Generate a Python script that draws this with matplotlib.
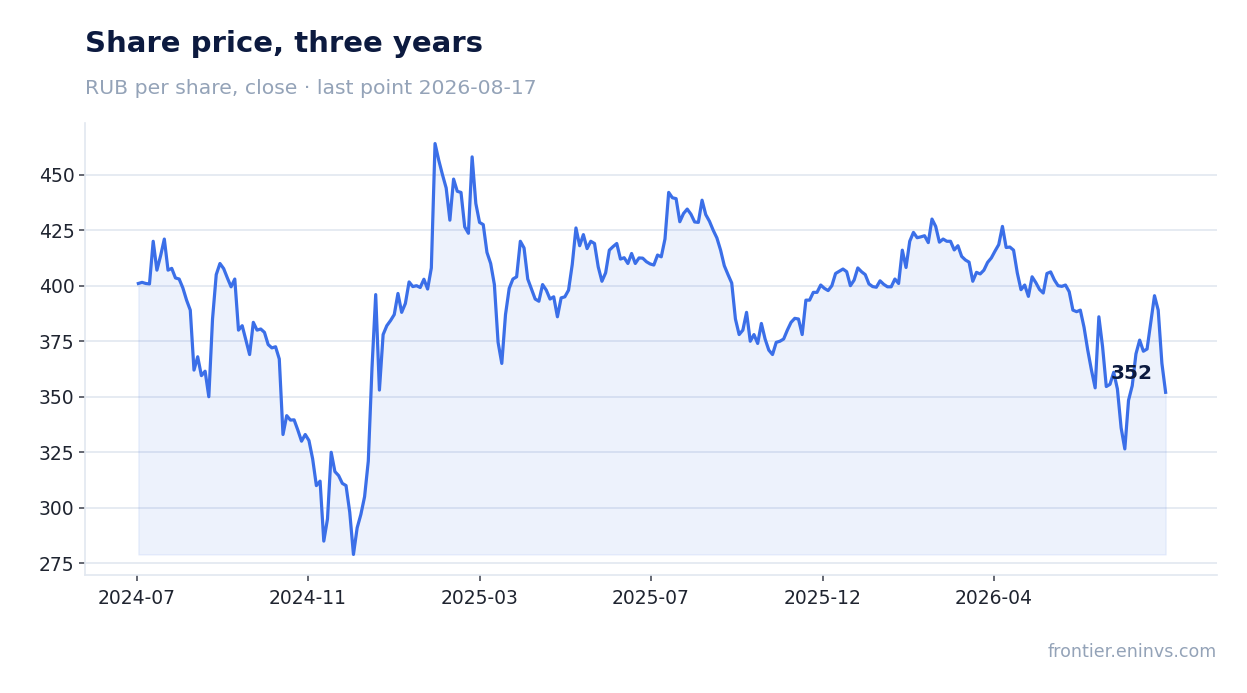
import numpy as np
import pandas as pd
from matplotlib import pyplot as plt

LINE = '#3b6fe8'
NAVY = '#0c1a3f'
GREY = '#94a3b8'
INK = '#1f2430'
RULE = '#e2e8f0'

START = '2024-07-01'
END = '2026-08-17'
TITLE = 'Share price, three years'
SUBTITLE = 'RUB per share, close \u00b7 last point 2026-08-17'
SOURCE = 'frontier.eninvs.com'

# closes, every second trading session ending on END
close = [
    401.0, 401.5, 401.0, 400.8, 420.0, 407.0, 413.5, 421.0, 407.0, 407.8,
    403.5, 403.0, 399.0, 393.5, 389.0, 362.0, 368.0, 359.5, 361.5, 350.0,
    385.0, 405.0, 410.0, 407.7, 403.5, 399.5, 403.0, 380.0, 382.0, 375.5,
    369.0, 383.5, 380.0, 380.5, 379.0, 373.5, 372.0, 372.5, 367.0, 333.0,
    341.5, 339.5, 339.6, 335.0, 330.0, 333.0, 330.3, 322.0, 310.0, 312.0,
    285.0, 295.0, 325.0, 316.3, 314.5, 311.0, 310.0, 298.0, 279.0, 291.0,
    297.0, 305.0, 321.0, 363.0, 396.0, 353.0, 378.0, 382.0, 384.3, 387.0,
    396.5, 388.0, 392.0, 401.7, 399.6, 400.0, 399.2, 402.9, 398.5, 408.0,
    464.0, 456.5, 450.0, 444.0, 429.5, 448.0, 442.5, 442.0, 426.5, 423.6,
    458.0, 437.0, 428.5, 427.5, 415.0, 410.0, 400.5, 374.5, 365.0, 387.0,
    398.8, 403.0, 404.0, 420.0, 417.0, 403.0, 398.5, 394.0, 393.0, 400.5,
    398.0, 394.0, 395.0, 386.0, 394.5, 395.0, 398.0, 409.6, 426.0, 418.0,
    423.0, 416.7, 420.0, 419.0, 408.5, 402.0, 405.8, 416.0, 417.6, 419.0,
    412.0, 412.6, 410.0, 414.5, 410.0, 412.5, 412.4, 410.8, 409.8, 409.3,
    413.8, 413.0, 421.0, 442.0, 439.6, 439.2, 428.8, 432.5, 434.5, 432.2,
    428.7, 428.5, 438.5, 432.0, 429.0, 425.0, 421.5, 416.0, 409.0, 405.0,
    401.2, 385.0, 378.0, 380.0, 388.0, 375.0, 378.0, 374.0, 383.0, 376.0,
    371.0, 369.0, 374.5, 375.0, 376.0, 380.0, 383.5, 385.3, 385.0, 378.0,
    393.5, 393.5, 397.0, 397.0, 400.3, 398.8, 397.8, 400.0, 405.5, 406.5,
    407.5, 406.3, 400.0, 402.5, 408.0, 406.3, 405.0, 400.8, 399.6, 399.3,
    402.2, 400.6, 399.5, 399.5, 403.0, 401.0, 416.0, 408.2, 420.0, 424.0,
    421.6, 422.0, 422.5, 419.4, 430.0, 426.7, 419.6, 421.0, 420.0, 420.0,
    416.1, 418.0, 413.2, 411.6, 410.6, 402.0, 406.0, 405.3, 407.0, 410.5,
    412.5, 415.6, 418.5, 426.7, 417.2, 417.4, 416.0, 405.8, 398.2, 400.3,
    395.2, 404.0, 401.4, 398.3, 396.7, 405.5, 406.2, 402.6, 400.0, 399.7,
    400.3, 397.3, 389.0, 388.3, 389.0, 381.3, 371.0, 362.0, 354.0, 386.0,
    372.5, 354.6, 355.6, 361.0, 353.5, 336.0, 326.5, 348.4, 355.0, 369.3,
    375.5, 370.5, 371.5, 383.6, 395.5, 389.0, 365.0, 352.0,
]

sessions = pd.bdate_range(START, END)
dates = pd.bdate_range(end=END, periods=len(close), freq='2B')
x = np.busday_count(np.datetime64(START, 'D'), dates.values.astype('datetime64[D]'))
y = np.array(close)

plt.rcParams['font.family'] = 'DejaVu Sans'
fig = plt.figure(figsize=(12.47, 6.93), dpi=100)
ax = fig.add_axes([0.0682, 0.1703, 0.9078, 0.6522])

ax.fill_between(x, y, y.min(), color=LINE, alpha=0.09, linewidth=1.0)
ax.plot(x, y, color=LINE, linewidth=2.3, solid_joinstyle='round')

n = len(sessions) - 1
ax.set_xlim(-0.05 * n, 1.05 * n)
span = y.max() - y.min()
ax.set_ylim(y.min() - 0.05 * span, y.max() + 0.05 * span)

tick_pos = np.linspace(0, n, 7)[:-1]
ax.set_xticks(tick_pos)
ax.set_xticklabels([sessions[int(p)].strftime('%Y-%m') for p in tick_pos])
ax.set_yticks(np.arange(275, 451, 25))

ax.grid(axis='y', color=RULE, linewidth=1.2)
ax.set_axisbelow(True)
for side in ('top', 'right'):
    ax.spines[side].set_visible(False)
for side in ('left', 'bottom'):
    ax.spines[side].set_color(RULE)
    ax.spines[side].set_linewidth(1.2)
ax.tick_params(axis='both', colors='#3a3f4b', labelcolor=INK, labelsize=13.5,
               length=4, width=1.1)
ax.tick_params(axis='x', pad=6)

ax.annotate(f'{close[-1]:.0f}', (x[-1], y[-1]), xytext=(-9, 7),
            textcoords='offset points', ha='right', va='bottom',
            fontsize=14.5, fontweight='bold', color=NAVY)

fig.text(0.0682, 0.936, TITLE, fontsize=21, fontweight='bold', color=NAVY,
         va='center', ha='left')
fig.text(0.0682, 0.873, SUBTITLE, fontsize=14.7, color=GREY, va='center', ha='left')
fig.text(0.976, 0.059, SOURCE, fontsize=12.6, color=GREY, va='center', ha='right')

fig.savefig('out.png', dpi=100)
plt.close(fig)
